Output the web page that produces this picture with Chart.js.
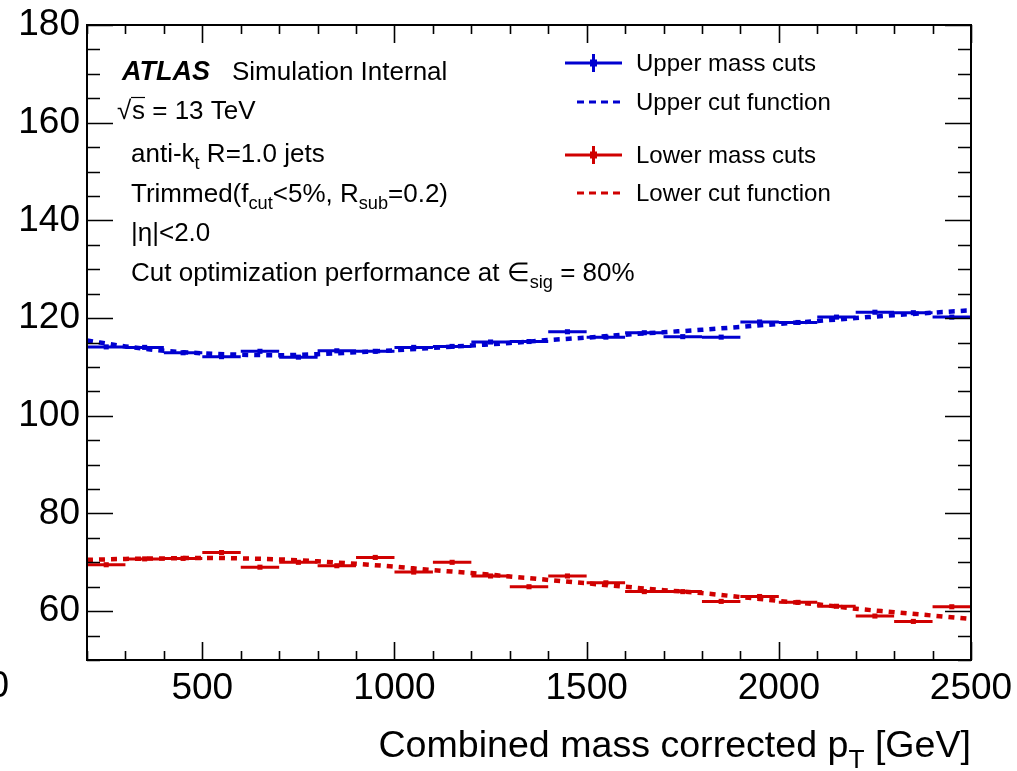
<!DOCTYPE html>
<html>
<head>
<meta charset="utf-8">
<script src="https://cdn.jsdelivr.net/npm/chart.js@4.4.1/dist/chart.umd.min.js"></script>
<style>
  html, body { margin: 0; padding: 0; background: #ffffff; }
  #wrap { width: 1017px; height: 771px; position: relative; }
</style>
</head>
<body>
<div id="wrap"><canvas id="c" width="1017" height="771"></canvas></div>
<script>
// Bin edges of the combined-mass-corrected pT bins [GeV]
const binEdges = [200,300,400,500,600,700,800,900,1000,1100,1200,1300,1400,1500,1600,1700,1800,1900,2000,2100,2200,2300,2400,2500];
// Optimised mass cut per bin [GeV]
const upperCuts = [114.1,114.0,112.9,112.1,113.2,112.0,113.3,113.2,114.0,114.2,115.1,115.2,117.2,116.1,117.0,116.2,116.1,119.2,119.1,120.2,121.2,121.1,120.2];
const lowerCuts = [69.5,70.7,70.8,72.0,69.0,70.0,69.3,71.0,68.0,70.0,67.2,65.0,67.2,65.8,64.0,64.0,62.0,63.0,61.8,61.0,59.0,57.9,60.9];
// Fitted cut functions, sampled along pT
const fnPt = [200,300,400,500,600,700,800,900,1000,1100,1200,1300,1400,1500,1600,1700,1800,1900,2000,2100,2200,2300,2400,2500];
const upperFn = [115.4,114.2,113.3,112.8,112.5,112.4,112.6,113.0,113.4,113.9,114.4,114.9,115.5,116.0,116.6,117.1,117.6,118.2,118.8,119.4,120.0,120.6,121.1,121.6];
const lowerFn = [70.5,70.7,70.8,70.9,70.8,70.6,70.2,69.7,69.1,68.4,67.8,67.1,66.4,65.7,65.0,64.3,63.7,62.9,62.1,61.4,60.5,59.8,59.1,58.4];
// Axis tick labels
const xTickLabels = [500,1000,1500,2000,2500];
const yTickLabels = [60,80,100,120,140,160,180];

const BLUE = '#0000d0';
const RED = '#d00000';
const FONT = '"Liberation Sans", Arial, Helvetica, sans-serif';

// Horizontal bin-width bars: (lo,v) -> (hi,v), broken by a null point
function binBars(vals) {
  const pts = [];
  vals.forEach((v, i) => {
    pts.push({x: binEdges[i], y: v});
    pts.push({x: binEdges[i + 1], y: v});
    pts.push({x: (binEdges[i] + binEdges[i + 1]) / 2, y: null});
  });
  return pts;
}
function binCentres(vals) {
  return vals.map((v, i) => ({x: (binEdges[i] + binEdges[i + 1]) / 2, y: v}));
}
function curve(vals) {
  return vals.map((v, i) => ({x: fnPt[i], y: v}));
}

const barStyle = c => ({borderColor: c, backgroundColor: c, borderWidth: 3, pointRadius: 0, spanGaps: false, showLine: true, tension: 0});
const markStyle = c => ({borderColor: c, backgroundColor: c, pointStyle: 'rect', pointRadius: 3.6, borderWidth: 0, showLine: false});
const fnStyle = c => ({borderColor: c, borderWidth: 4.5, borderDash: [6, 6], borderCapStyle: 'butt', pointRadius: 0, showLine: true, cubicInterpolationMode: 'monotone'});

// Text helper with sub-scripts: parts = [[text, 'n'|'sub'], ...]
function richText(ctx, parts, x, y, size) {
  let cx = x;
  parts.forEach(([t, kind]) => {
    const s = kind === 'sub' ? size * 0.7 : size;
    const dy = kind === 'sub' ? size * 0.28 : 0;
    ctx.font = s + 'px ' + FONT;
    ctx.fillText(t, cx, y + dy);
    cx += ctx.measureText(t).width;
  });
  return cx;
}

const framePlugin = {
  id: 'frame',
  afterDraw(chart) {
    const {ctx, chartArea: a, scales: {x, y}} = chart;
    ctx.save();
    ctx.strokeStyle = '#000';
    ctx.lineWidth = 2;
    ctx.strokeRect(a.left, a.top, a.right - a.left, a.bottom - a.top);
    ctx.lineWidth = 1.6;
    ctx.beginPath();
    // x ticks (inward, bottom and top)
    for (let v = 200; v <= 2500; v += 100) {
      const px = Math.round(x.getPixelForValue(v)) + 0.5;
      const len = xTickLabels.includes(v) ? 18 : 9;
      ctx.moveTo(px, a.bottom); ctx.lineTo(px, a.bottom - len);
      ctx.moveTo(px, a.top); ctx.lineTo(px, a.top + len);
    }
    // y ticks (inward, left and right)
    for (let v = 50; v <= 180; v += 5) {
      const py = Math.round(y.getPixelForValue(v)) + 0.5;
      const len = yTickLabels.includes(v) ? 26 : 13;
      ctx.moveTo(a.left, py); ctx.lineTo(a.left + len, py);
      ctx.moveTo(a.right, py); ctx.lineTo(a.right - len, py);
    }
    ctx.stroke();

    // leftover origin label at the lower-left corner
    ctx.fillStyle = '#000';
    ctx.font = '37px ' + FONT;
    ctx.textAlign = 'right';
    ctx.textBaseline = 'middle';
    ctx.fillText('0', 9, 687);

    // x-axis title, right aligned to the frame
    ctx.textAlign = 'left';
    ctx.textBaseline = 'alphabetic';
    const tfs = 37.6;
    const main = 'Combined mass corrected p';
    const tail = ' [GeV]';
    ctx.font = tfs + 'px ' + FONT;
    const wMain = ctx.measureText(main).width;
    const wTail = ctx.measureText(tail).width;
    ctx.font = (tfs * 0.7) + 'px ' + FONT;
    const wSub = ctx.measureText('T').width;
    const tx = a.right - (wMain + wSub + wTail);
    richText(ctx, [[main, 'n'], ['T', 'sub'], [tail, 'n']], tx, 757, tfs);

    // ATLAS label block
    const fs = 26;
    ctx.font = 'italic bold 27px ' + FONT;
    ctx.fillText('ATLAS', 122, 80);
    ctx.font = fs + 'px ' + FONT;
    ctx.fillText('Simulation Internal', 232, 80);

    // sqrt(s) = 13 TeV
    ctx.font = fs + 'px ' + FONT;
    ctx.fillText('\u221A', 117, 119);
    const sx = 132;
    ctx.fillText('s = 13 TeV', sx, 119);
    ctx.lineWidth = 1.2;
    ctx.beginPath();
    ctx.moveTo(sx - 1, 97.5); ctx.lineTo(sx + 13, 97.5);
    ctx.stroke();

    richText(ctx, [['anti-k', 'n'], ['t', 'sub'], [' R=1.0 jets', 'n']], 131, 162, fs);
    richText(ctx, [['Trimmed(f', 'n'], ['cut', 'sub'], ['<5%, R', 'n'], ['sub', 'sub'], ['=0.2)', 'n']], 131, 202, fs);
    richText(ctx, [['|\u03B7|<2.0', 'n']], 131, 241, fs);
    richText(ctx, [['Cut optimization performance at \u2208', 'n'], ['sig', 'sub'], [' = 80%', 'n']], 131, 281, fs);

    // legend
    const lfs = 24;
    const entries = [
      {y: 63, c: BLUE, kind: 'bar', t: 'Upper mass cuts'},
      {y: 102, c: BLUE, kind: 'fn', t: 'Upper cut function'},
      {y: 155, c: RED, kind: 'bar', t: 'Lower mass cuts'},
      {y: 193, c: RED, kind: 'fn', t: 'Lower cut function'}
    ];
    entries.forEach(e => {
      ctx.strokeStyle = e.c;
      ctx.fillStyle = e.c;
      if (e.kind === 'bar') {
        ctx.lineWidth = 3;
        ctx.setLineDash([]);
        ctx.beginPath();
        ctx.moveTo(565, e.y); ctx.lineTo(622, e.y);
        ctx.moveTo(593.5, e.y - 9); ctx.lineTo(593.5, e.y + 9);
        ctx.stroke();
        ctx.fillRect(590, e.y - 3.5, 7, 7);
      } else {
        ctx.lineWidth = 3;
        ctx.setLineDash([7, 5]);
        ctx.beginPath();
        ctx.moveTo(577, e.y); ctx.lineTo(622, e.y);
        ctx.stroke();
        ctx.setLineDash([]);
      }
      ctx.fillStyle = '#000';
      ctx.font = lfs + 'px ' + FONT;
      ctx.textBaseline = 'middle';
      ctx.fillText(e.t, 636, e.y + 1);
      ctx.textBaseline = 'alphabetic';
    });
    ctx.restore();
  }
};

new Chart(document.getElementById('c'), {
  type: 'scatter',
  data: {
    datasets: [
      Object.assign({label: 'Upper mass cuts', data: binBars(upperCuts), order: 4}, barStyle(BLUE)),
      Object.assign({label: 'Upper mass cuts markers', data: binCentres(upperCuts), order: 3}, markStyle(BLUE)),
      Object.assign({label: 'Lower mass cuts', data: binBars(lowerCuts), order: 4}, barStyle(RED)),
      Object.assign({label: 'Lower mass cuts markers', data: binCentres(lowerCuts), order: 3}, markStyle(RED)),
      Object.assign({label: 'Upper cut function', data: curve(upperFn), order: 1}, fnStyle(BLUE)),
      Object.assign({label: 'Lower cut function', data: curve(lowerFn), order: 1}, fnStyle(RED))
    ]
  },
  options: {
    responsive: false,
    animation: false,
    events: [],
    layout: {padding: {left: 0, right: 46, top: 25, bottom: 0}},
    plugins: {legend: {display: false}, tooltip: {enabled: false}, title: {display: false}},
    scales: {
      x: {
        type: 'linear', min: 200, max: 2500,
        grid: {display: false, drawTicks: false},
        border: {display: false},
        afterBuildTicks: s => { s.ticks = xTickLabels.map(v => ({value: v})); },
        afterFit: s => { s.height = 111; s.paddingLeft = 0; s.paddingRight = 0; },
        ticks: {color: '#000', font: {family: FONT, size: 37}, padding: 7, maxRotation: 0, autoSkip: false,
                callback: v => String(v)}
      },
      y: {
        type: 'linear', min: 50, max: 180,
        grid: {display: false, drawTicks: false},
        border: {display: false},
        afterBuildTicks: s => { s.ticks = yTickLabels.map(v => ({value: v})); },
        afterFit: s => { s.width = 87; s.paddingTop = 0; s.paddingBottom = 0; },
        ticks: {color: '#000', font: {family: FONT, size: 37}, padding: 7, autoSkip: false,
                callback: v => String(v)}
      }
    }
  },
  plugins: [framePlugin]
});
</script>
</body>
</html>
